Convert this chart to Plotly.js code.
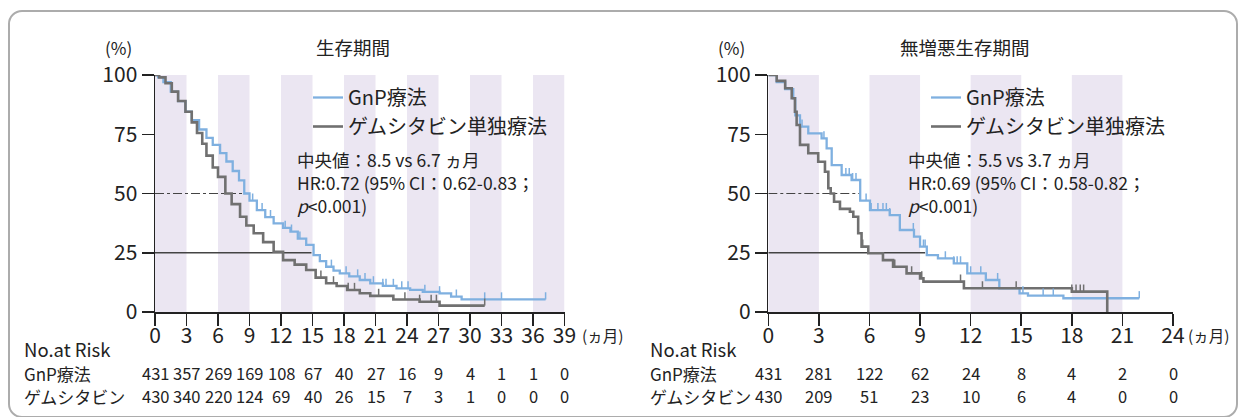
<!DOCTYPE html>
<html><head><meta charset="utf-8">
<script src="https://cdn.plot.ly/plotly-3.0.1.min.js"></script>
<style>
html,body{margin:0;padding:0;background:#fff;}
#wrap{position:relative;width:1244px;height:417px;overflow:hidden;}
#chart{position:absolute;left:0;top:0;width:1244px;height:417px;}
#frame{position:absolute;left:8px;top:10px;width:1226px;height:404px;border:2px solid #acacac;border-radius:14px;pointer-events:none;}
</style></head><body>
<div id="wrap"><div id="chart"></div><div id="frame"></div></div>
<script>
// ---------- Overall survival (months, %) ----------
const osGnpT = [0,0.3,0.8,1.5,2.2,2.9,3.5,4.2,4.9,5.5,6.2,6.8,7.4,8.0,8.5,9.0,9.7,10.5,11.3,12.2,12.9,13.6,14.4,15.1,15.7,16.3,17.0,17.6,18.5,19.5,20.5,21.7,23.0,24.3,25.5,27.1,28.2,29.2,37.2];
const osGnpS = [100,99,97,93,89,84.5,81,77,73.5,70.5,67,63.5,59.5,55.5,50,47,43,40,37.4,35.5,33.9,31,28.3,24,21.5,19.1,17.5,16.3,15,13.5,12.1,11,10,9.3,8.5,7.9,6.5,5.3,5.3];
const osGemT = [0,0.4,1.0,1.6,2.2,2.9,3.5,4.0,4.5,4.9,5.5,6.0,6.7,7.3,8.1,8.7,9.4,10.3,11.3,12.2,13.3,14.4,15.3,16.3,17.3,18.3,19.5,20.5,22.7,25.2,27.1,31.4];
const osGemS = [100,99,96.5,93,89,84.5,80,75.5,71,66,61,57,50,45.5,40.2,36.5,33.2,29.5,25.4,21.9,20,17.7,14.5,12.1,11,9.3,7.9,6.8,5.3,4.3,2.7,2.7];
const osGnpCens = [9.3,10.2,11.0,12.4,13.0,13.8,16.8,18.2,19.3,20.0,20.8,21.7,22.0,22.7,23.5,24.1,25.7,27.1,28.7,31.4,33.0,37.2];
const osGemCens = [15.8,17.0,18.4,19.0,21.3,23.8,25.2,26.3,26.8,31.4];

// ---------- Progression-free survival (months, %) ----------
const pfsGnpT = [0,0.5,1.0,1.48,1.6,1.88,2.37,3.16,3.46,3.76,4.35,4.94,5.34,5.45,6.03,7.2,7.8,8.64,9.0,9.4,10.06,11.0,11.8,12.9,13.7,14.9,15.4,17.5,22.0];
const pfsGnpS = [100,97,94,90.2,83,78.2,75.4,73.3,69,62,57.8,55.7,55.7,47,43,40.9,34.6,31.8,27.6,24,22.6,20.5,16.3,13.5,10,7.9,6.9,5.8,5.8];
const pfsGemT = [0,0.5,1.0,1.39,1.58,1.68,1.88,2.37,2.96,3.36,3.56,3.7,3.9,4.25,4.84,5.04,5.33,5.53,5.93,6.8,7.4,8.2,9.0,9.2,11.0,11.6,18.0,20.1,20.1];
const pfsGemS = [100,97.5,94.4,90.2,84.5,78.9,70.5,67,63.4,59.2,52.2,50,46.5,43.5,42.3,40.2,33.2,27.6,24.8,21.9,19.1,16.3,14.2,12.8,12.8,10,8.6,8.6,0];
const pfsGnpCens = [2.0,3.3,4.6,4.8,5.0,5.2,5.8,6.1,6.5,6.8,7.0,7.2,8.6,9.2,9.3,10.5,11.0,11.2,11.4,12.0,12.6,13.6,15.1,16.3,16.9,22.0];
const pfsGemCens = [5.6,7.5,8.5,9.1,11.4,12.7,14.7,18.0,18.25,18.5,18.7];

// ---------- axes / labels ----------
const ticksOS = [0,3,6,9,12,15,18,21,24,27,30,33,36,39];
const ticksPFS = [0,3,6,9,12,15,18,21,24];
const yTicks = [0,25,50,75,100];
const bandsOS = [[0,3],[6,9],[12,15],[18,21],[24,27],[30,33],[36,39]];
const bandsPFS = [[0,3],[6,9],[12,15],[18,21]];
const riskOSGnp = [431,357,269,169,108,67,40,27,16,9,4,1,1,0];
const riskOSGem = [430,340,220,124,69,40,26,15,7,3,1,0,0,0];
const riskPFSGnp = [431,281,122,62,24,8,4,2,0];
const riskPFSGem = [430,209,51,23,10,6,4,0,0];
const seriesNames = ['GnP療法','ゲムシタビン単独療法'];
const riskNames = ['No.at Risk','GnP療法','ゲムシタビン'];
const titles = ['生存期間','無増悪生存期間'];
const statsOS = ['中央値：8.5 vs 6.7 ヵ月','HR:0.72 (95% CI：0.62-0.83；','<i>p</i>&lt;0.001)'];
const statsPFS = ['中央値：5.5 vs 3.7 ヵ月','HR:0.69 (95% CI：0.58-0.82；','<i>p</i>&lt;0.001)'];
// reference lines: [y, xEnd]
const medLineOS = [50, 8.3], qLineOS = [25, 14.9];
const medLinePFS = [50, 5.4], qLinePFS = [25, 9.3];

const BLUE = '#7fb0e0', GRAY = '#707070', BAND = '#ebe6f2', INK = '#222';
const FONT = '"Noto Sans CJK JP","Noto Sans",sans-serif';
const W = 1244, H = 417;
const px = v => v / W, py = v => 1 - v / H;
const CENS_H = 3; // visual height of censor ticks (style)

function stepAt(t, T, S) { let s = S[0]; for (let i = 0; i < T.length; i++) { if (T[i] <= t) s = S[i]; } return s; }

function km(T, S, color, width, xa, ya, name, legend) {
  return { x: T, y: S, mode: 'lines', line: { shape: 'hv', color: color, width: width },
    xaxis: xa, yaxis: ya, name: name, legend: legend, showlegend: true, hoverinfo: 'skip' };
}
function cens(C, T, S, color, xa, ya) {
  return { x: C, y: C.map(t => stepAt(t, T, S)), mode: 'markers',
    marker: { size: 1, color: 'rgba(0,0,0,0)' },
    error_y: { type: 'data', symmetric: false, array: C.map(() => CENS_H), arrayminus: C.map(() => 0), color: color, thickness: 1.5, width: 0 },
    xaxis: xa, yaxis: ya, showlegend: false, hoverinfo: 'skip', cliponaxis: false };
}

const data = [
  km(osGnpT, osGnpS, BLUE, 2.3, 'x', 'y', seriesNames[0], 'legend'),
  km(osGemT, osGemS, GRAY, 2.6, 'x', 'y', seriesNames[1], 'legend'),
  cens(osGnpCens, osGnpT, osGnpS, BLUE, 'x', 'y'),
  cens(osGemCens, osGemT, osGemS, GRAY, 'x', 'y'),
  km(pfsGnpT, pfsGnpS, BLUE, 2.3, 'x2', 'y2', seriesNames[0], 'legend2'),
  km(pfsGemT, pfsGemS, GRAY, 2.6, 'x2', 'y2', seriesNames[1], 'legend2'),
  cens(pfsGnpCens, pfsGnpT, pfsGnpS, BLUE, 'x2', 'y2'),
  cens(pfsGemCens, pfsGemT, pfsGemS, GRAY, 'x2', 'y2')
];

const shapes = [];
bandsOS.forEach(b => shapes.push({ type: 'rect', xref: 'x', yref: 'y', x0: b[0], x1: b[1], y0: 0, y1: 100, fillcolor: BAND, line: { width: 0 }, layer: 'below' }));
bandsPFS.forEach(b => shapes.push({ type: 'rect', xref: 'x2', yref: 'y2', x0: b[0], x1: b[1], y0: 0, y1: 100, fillcolor: BAND, line: { width: 0 }, layer: 'below' }));
[['x','y',medLineOS,qLineOS],['x2','y2',medLinePFS,qLinePFS]].forEach(([xa, ya, m, q]) => {
  shapes.push({ type: 'line', xref: xa, yref: ya, x0: 0, x1: m[1], y0: m[0], y1: m[0], line: { color: '#444', width: 1, dash: 'dashdot' }, layer: 'below' });
  shapes.push({ type: 'line', xref: xa, yref: ya, x0: 0, x1: q[1], y0: q[0], y1: q[0], line: { color: '#444', width: 1.5 }, layer: 'below' });
});

const ann = [];
function txt(text, x, y, size, xanchor, extra) {
  ann.push(Object.assign({ text: text, x: x, y: y, xref: 'paper', yref: 'paper', showarrow: false,
    xanchor: xanchor || 'center', yanchor: 'middle', font: { size: size, color: INK, family: FONT } }, extra || {}));
}
txt(titles[0], px(353), py(47), 18.5);
txt(titles[1], px(965), py(47), 18.5);
txt('(%)', px(118), py(48), 17);
txt('(%)', px(731), py(48), 17);
[[296, statsOS], [907, statsPFS]].forEach(([x, lines]) => {
  txt(lines.join('<br>'), px(x), py(146), 17.5, 'left', { align: 'left', yanchor: 'top', borderpad: 0 });
});
txt('(ヵ月)', px(580), py(335), 15.5, 'left');
txt('(ヵ月)', px(1186), py(335), 15.5, 'left');
// risk tables
[[22, 'x', ticksOS, riskOSGnp, riskOSGem], [648, 'x2', ticksPFS, riskPFSGnp, riskPFSGem]].forEach(([lx, xa, ticks, g, m]) => {
  txt(riskNames[0], px(lx), py(349), 18.5, 'left');
  txt(riskNames[1], px(lx), py(373), 17, 'left');
  txt(riskNames[2], px(lx), py(396), 17, 'left');
  ticks.forEach((t, i) => {
    ann.push({ text: String(g[i]), x: t, xref: xa, y: py(373), yref: 'paper', showarrow: false, xanchor: 'center', yanchor: 'middle', font: { size: 16.5, color: INK, family: FONT } });
    ann.push({ text: String(m[i]), x: t, xref: xa, y: py(396), yref: 'paper', showarrow: false, xanchor: 'center', yanchor: 'middle', font: { size: 16.5, color: INK, family: FONT } });
  });
});

const axBase = { showline: true, linecolor: INK, linewidth: 1.5, ticks: 'outside', ticklen: 12, tickwidth: 1.5, tickcolor: INK,
  showgrid: false, zeroline: false, fixedrange: true, tickfont: { size: 21, color: INK, family: FONT } };
const yDom = [1 - 312 / H, 1 - 75 / H];
const legBase = { bgcolor: 'rgba(0,0,0,0)', font: { size: 20, color: INK, family: FONT }, yanchor: 'top', xanchor: 'left', traceorder: 'normal', itemwidth: 30, tracegroupgap: 0 };

const layout = {
  width: W, height: H, margin: { l: 0, r: 0, t: 0, b: 0 }, paper_bgcolor: '#fff', plot_bgcolor: '#fff',
  font: { family: FONT, color: INK },
  xaxis: Object.assign({}, axBase, { domain: [px(155), px(564.5)], range: [0, 39], tickvals: ticksOS, anchor: 'y', ticklabelstandoff: -8 }),
  yaxis: Object.assign({}, axBase, { domain: yDom, range: [0, 100], tickvals: yTicks, anchor: 'x' }),
  xaxis2: Object.assign({}, axBase, { domain: [px(768.3), px(1173)], range: [0, 24], tickvals: ticksPFS, anchor: 'y2', ticklabelstandoff: -8 }),
  yaxis2: Object.assign({}, axBase, { domain: yDom, range: [0, 100], tickvals: yTicks, anchor: 'x2' }),
  legend: Object.assign({}, legBase, { x: px(308), y: py(78) }),
  legend2: Object.assign({}, legBase, { x: px(926), y: py(78) }),
  shapes: shapes, annotations: ann
};
Plotly.newPlot('chart', data, layout, { staticPlot: true });
</script></body></html>
